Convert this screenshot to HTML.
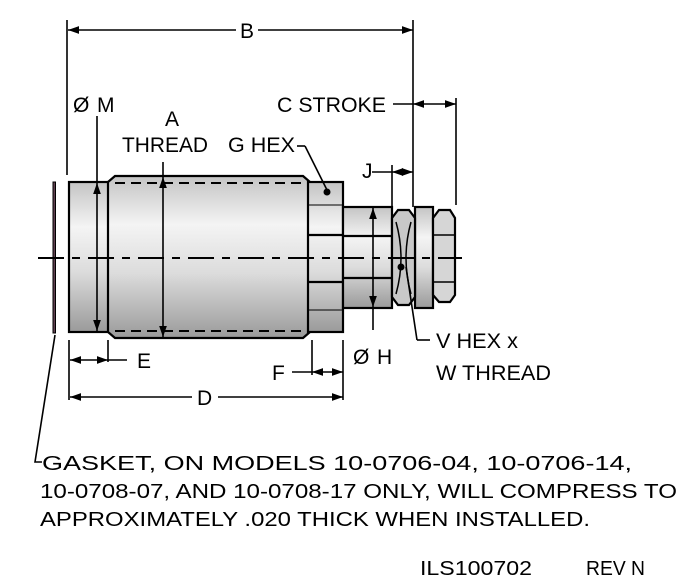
<!DOCTYPE html>
<html><head><style>
html,body{margin:0;padding:0;background:#fff;width:700px;height:585px;overflow:hidden}
svg text{font-family:"Liberation Sans",sans-serif;fill:#000}
</style></head><body>
<svg width="700" height="585" viewBox="0 0 700 585" xmlns="http://www.w3.org/2000/svg">
<defs>
<linearGradient id="g" x1="0" y1="0" x2="0" y2="1">
<stop offset="0" stop-color="#c4c4c4"/><stop offset="0.3" stop-color="#f4f4f4"/><stop offset="0.6" stop-color="#dcdcdc"/><stop offset="1" stop-color="#9a9a9a"/>
</linearGradient>
<marker id="a" viewBox="0 0 10 10" refX="10" refY="5" markerWidth="7" markerHeight="7" orient="auto-start-reverse"><path d="M0,1.5L10,5L0,8.5z" fill="#000"/></marker>
</defs>
<g stroke="#000" stroke-width="2.2" fill="url(#g)">
<rect x="53" y="182" width="2.5" height="151" fill="#604050" stroke-width="1"/>
<rect x="69" y="182" width="42" height="150"/>
<path d="M108,182 L115,176 L303,176 L310,182 L310,332 L303,338 L115,338 L108,332z"/>
<rect x="308" y="182" width="35" height="150"/>
<line x1="308" y1="235" x2="343" y2="235"/><line x1="308" y1="282" x2="343" y2="282"/>
<line x1="308" y1="205" x2="343" y2="205" stroke-width="1"/><line x1="308" y1="310" x2="343" y2="310" stroke-width="1"/>
<rect x="343" y="207" width="49" height="101"/>
<line x1="343" y1="236" x2="392" y2="236"/><line x1="343" y1="278" x2="392" y2="278"/>
<rect x="415" y="207" width="18" height="101"/>
<path d="M392,218 L398,210 L409,210 L415,218 L415,297 L409,305 L398,305 L392,297z" fill="#c8c8c8"/>
<path d="M396,222 Q406,258 396,294 M411,222 Q401,258 411,294" fill="none" stroke-width="1.5"/>
<path d="M433,218 L439,210 L450,210 L455,218 L455,295 L450,302 L439,302 L433,295z" fill="#d6d6d6"/>
<line x1="433" y1="235" x2="455" y2="235" stroke-width="1.5"/><line x1="433" y1="282" x2="455" y2="282" stroke-width="1.5"/>
</g>
<g stroke="#000" stroke-width="2" stroke-dasharray="10,6" fill="none">
<line x1="115" y1="183" x2="303" y2="183"/><line x1="115" y1="331" x2="303" y2="331"/>
<line x1="38" y1="258" x2="462" y2="258" stroke-dasharray="26,8,8,8"/>
</g>
<g stroke="#000" stroke-width="1.6" fill="none">
<line x1="67" y1="20" x2="67" y2="175"/>
<line x1="413" y1="20" x2="413" y2="207"/>
<line x1="456" y1="98" x2="456" y2="205"/>
<line x1="392" y1="165" x2="392" y2="207"/>
<line x1="68" y1="30" x2="236" y2="30" marker-start="url(#a)"/>
<line x1="258" y1="30" x2="413" y2="30" marker-end="url(#a)"/>
<line x1="393" y1="104" x2="413" y2="104"/>
<line x1="413" y1="104" x2="456" y2="104" marker-start="url(#a)" marker-end="url(#a)"/>
<line x1="372" y1="172" x2="392" y2="172"/>
<line x1="392" y1="172" x2="413" y2="172" marker-start="url(#a)" marker-end="url(#a)"/>
<line x1="97" y1="116" x2="97" y2="182"/>
<line x1="97" y1="183" x2="97" y2="331" marker-start="url(#a)" marker-end="url(#a)"/>
<line x1="163" y1="162" x2="163" y2="176"/>
<line x1="163" y1="177" x2="163" y2="337" marker-start="url(#a)" marker-end="url(#a)"/>
<line x1="373" y1="208" x2="373" y2="307" marker-start="url(#a)" marker-end="url(#a)"/>
<line x1="373" y1="308" x2="373" y2="330"/>
<line x1="297" y1="146" x2="305" y2="146"/><line x1="305" y1="146" x2="327" y2="190"/>
<line x1="406" y1="267" x2="417" y2="340"/><line x1="417" y1="340" x2="430" y2="340"/>
<line x1="69" y1="340" x2="69" y2="400"/><line x1="108" y1="340" x2="108" y2="362"/>
<line x1="312" y1="340" x2="312" y2="375"/><line x1="343" y1="340" x2="343" y2="400"/>
<line x1="70" y1="360" x2="108" y2="360" marker-start="url(#a)" marker-end="url(#a)"/>
<line x1="108" y1="360" x2="127" y2="360"/>
<line x1="292" y1="372" x2="312" y2="372"/>
<line x1="312" y1="372" x2="343" y2="372" marker-start="url(#a)" marker-end="url(#a)"/>
<line x1="70" y1="397" x2="192" y2="397" marker-start="url(#a)"/>
<line x1="218" y1="397" x2="343" y2="397" marker-end="url(#a)"/>
<path d="M55,335 L35,462 L42,462"/>
</g>
<circle cx="327" cy="192" r="3.5" fill="#000"/>
<circle cx="401" cy="267" r="3.5" fill="#000"/>
<g font-size="21">
<text x="240" y="38">B</text>
<text x="73" y="112">Ø</text><text x="97" y="112">M</text>
<text x="165" y="126">A</text>
<text x="122" y="152" textLength="86" lengthAdjust="spacingAndGlyphs">THREAD</text>
<text x="228" y="152" textLength="67" lengthAdjust="spacingAndGlyphs">G HEX</text>
<text x="277" y="112" textLength="109" lengthAdjust="spacingAndGlyphs">C STROKE</text>
<text x="362" y="178">J</text>
<text x="137" y="368">E</text>
<text x="272" y="380">F</text>
<text x="197" y="405">D</text>
<text x="353" y="364">Ø</text><text x="377" y="364">H</text>
<text x="436" y="348" textLength="82" lengthAdjust="spacingAndGlyphs">V HEX x</text>
<text x="436" y="380" textLength="115" lengthAdjust="spacingAndGlyphs">W THREAD</text>
</g>
<g font-size="20">
<text x="42" y="470" textLength="590" lengthAdjust="spacingAndGlyphs">GASKET, ON MODELS 10-0706-04, 10-0706-14,</text>
<text x="40" y="498" textLength="637" lengthAdjust="spacingAndGlyphs">10-0708-07, AND 10-0708-17 ONLY, WILL COMPRESS TO</text>
<text x="40" y="526" textLength="550" lengthAdjust="spacingAndGlyphs">APPROXIMATELY .020 THICK WHEN INSTALLED.</text>
<text x="420" y="575" textLength="112" lengthAdjust="spacingAndGlyphs">ILS100702</text>
<text x="586" y="575" textLength="59" lengthAdjust="spacingAndGlyphs">REV N</text>
</g>
</svg>
</body></html>
